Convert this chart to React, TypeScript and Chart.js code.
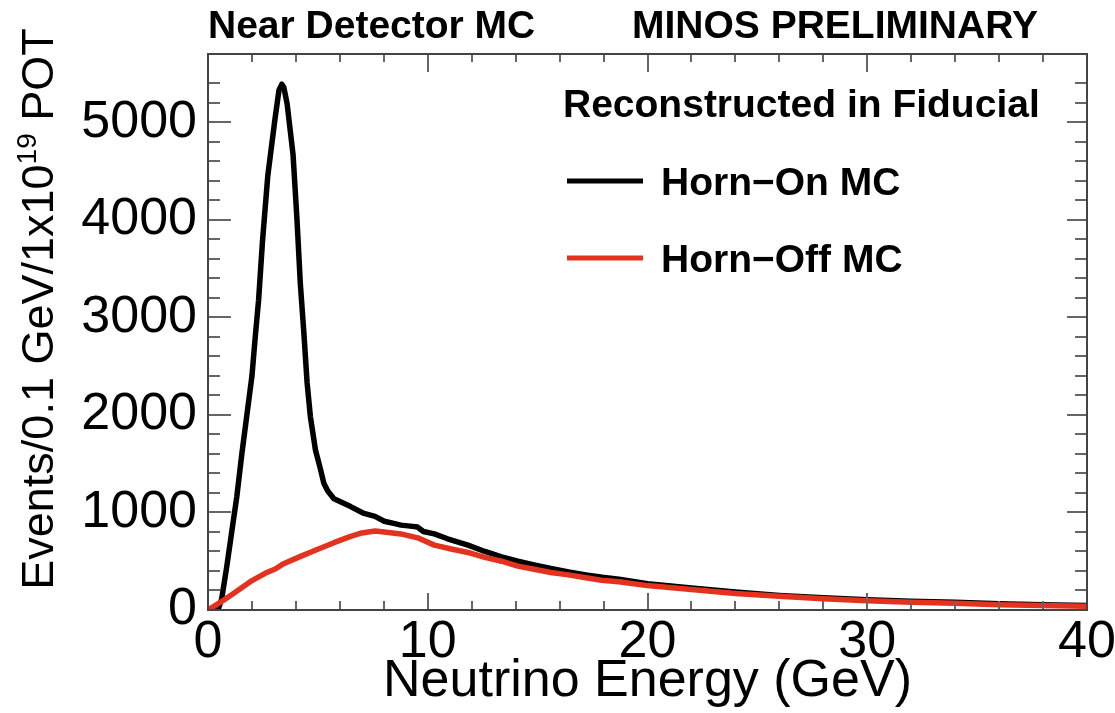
import React, { useEffect, useRef } from 'react';
import { Chart, registerables } from 'chart.js';

Chart.register(...registerables);

// Horn-On MC (black), energy in GeV and events per 0.1 GeV per 1e19 POT
const onEnergy = [0, 0.45, 0.62, 0.85, 1.08, 1.31, 1.54, 1.77, 2.0, 2.15, 2.3, 2.48, 2.72, 3.04, 3.23, 3.36, 3.45, 3.6, 3.87, 4.05, 4.2, 4.36, 4.51, 4.66, 4.89, 5.1, 5.27, 5.45, 5.73, 5.88, 6.49, 7.1, 7.6, 8.02, 8.5, 8.78, 9.2, 9.54, 9.8, 10.3, 10.9, 11.83, 12.6, 13.36, 14.1, 14.89, 15.6, 16.41, 17.2, 17.94, 18.7, 20, 22, 24, 26, 28, 30, 32, 34, 36, 38, 40];
const onEvents = [0, 0, 110, 440, 800, 1160, 1600, 2000, 2400, 2800, 3170, 3780, 4450, 5020, 5330, 5390, 5360, 5190, 4670, 4000, 3350, 2850, 2330, 1980, 1640, 1460, 1300, 1220, 1140, 1125, 1060, 990, 960, 910, 885, 870, 860, 850, 805, 780, 730, 665, 600, 545, 500, 460, 425, 390, 360, 335, 315, 270, 225, 185, 150, 125, 105, 90, 80, 65, 55, 45];

// Horn-Off MC (red)
const offEnergy = [0, 0.5, 1.16, 1.92, 2.68, 3.06, 3.44, 4.21, 4.97, 5.73, 6.49, 7.0, 7.6, 8.02, 8.78, 9.54, 10.3, 11.07, 11.83, 12.6, 13.36, 14.1, 14.9, 15.6, 16.4, 17.2, 17.9, 18.7, 20, 22, 24, 26, 28, 30, 32, 34, 36, 38, 40];
const offEvents = [0, 70, 170, 290, 385, 420, 475, 550, 620, 690, 755, 790, 810, 800, 780, 740, 665, 625, 590, 540, 500, 450, 415, 385, 360, 330, 305, 290, 250, 210, 170, 140, 115, 95, 80, 70, 55, 45, 38];

const xTickLabels = ['0', '10', '20', '30', '40'];
const yTickLabels = ['0', '1000', '2000', '3000', '4000', '5000'];
const seriesNames = ['Horn\u2212On MC', 'Horn\u2212Off MC'];
const seriesColors = ['#000000', '#e3321e'];
const headerLeft = 'Near Detector MC';
const headerRight = 'MINOS PRELIMINARY';
const legendHeader = 'Reconstructed in Fiducial';
const xTitle = 'Neutrino Energy (GeV)';
const yTitleMain = 'Events/0.1 GeV/1x10';
const yTitleSup = '19';
const yTitleEnd = ' POT';

const FONT = "'Liberation Sans', Arial, Helvetica, sans-serif";

const decorPlugin = {
  id: 'decor',
  afterDatasetsDraw(chart: any) {
    const { ctx, chartArea: a, scales } = chart;
    const x = scales.x;
    const y = scales.y;
    ctx.save();
    const line = (x1: number, y1: number, x2: number, y2: number) => {
      ctx.beginPath();
      ctx.moveTo(x1, y1);
      ctx.lineTo(x2, y2);
      ctx.stroke();
    };
    ctx.strokeStyle = '#666';
    ctx.lineWidth = 2;
    for (const t of x.ticks) {
      const v = t.value;
      if (v <= x.min || v >= x.max) continue;
      const px = Math.round(x.getPixelForValue(v));
      const major = v % 10 === 0;
      line(px, a.bottom, px, a.bottom - (major ? 17 : 9));
      line(px, a.top, px, a.top + (major ? 18 : 8));
    }
    for (const t of y.ticks) {
      const v = t.value;
      if (v <= y.min || v >= y.max || v % 200 !== 0) continue;
      const py = Math.round(y.getPixelForValue(v));
      const major = v % 1000 === 0;
      line(a.left, py, a.left + (major ? 23 : 12), py);
      line(a.right, py, a.right - (major ? 20 : 12), py);
    }
    ctx.strokeStyle = '#444';
    ctx.lineWidth = 2;
    ctx.strokeRect(a.left, a.top, a.right - a.left, a.bottom - a.top);
    ctx.restore();
  },
  afterDraw(chart: any) {
    const { ctx } = chart;
    ctx.save();
    ctx.fillStyle = '#000';
    ctx.textBaseline = 'alphabetic';
    ctx.textAlign = 'left';
    ctx.font = `bold 39px ${FONT}`;
    ctx.fillText(headerLeft, 208, 38);
    ctx.fillText(headerRight, 632, 38);

    ctx.font = `bold 39px ${FONT}`;
    ctx.fillText(legendHeader, 563, 117);
    const rows = [181, 258];
    seriesNames.forEach((name, i) => {
      ctx.strokeStyle = seriesColors[i];
      ctx.lineWidth = 5;
      ctx.beginPath();
      ctx.moveTo(567, rows[i]);
      ctx.lineTo(643, rows[i]);
      ctx.stroke();
      ctx.fillText(name, 661, rows[i] + 14);
    });

    // y axis title (rotated)
    const mainFont = `45px ${FONT}`;
    const supFont = `28px ${FONT}`;
    ctx.font = mainFont;
    const w1 = ctx.measureText(yTitleMain).width;
    const w3 = ctx.measureText(yTitleEnd).width;
    ctx.font = supFont;
    const w2 = ctx.measureText(yTitleSup).width;
    const total = w1 + w2 + w3;
    ctx.translate(53, 309);
    ctx.rotate(-Math.PI / 2);
    let cx = -total / 2;
    ctx.font = mainFont;
    ctx.fillText(yTitleMain, cx, 0);
    cx += w1;
    ctx.font = supFont;
    ctx.fillText(yTitleSup, cx, -17);
    cx += w2;
    ctx.font = mainFont;
    ctx.fillText(yTitleEnd, cx, 0);
    ctx.restore();
  },
};

export default function App() {
  const ref = useRef<HTMLCanvasElement | null>(null);
  useEffect(() => {
    if (!ref.current) return;
    const chart = new Chart(ref.current, {
      type: 'line',
      data: {
        datasets: [
          {
            label: seriesNames[1],
            data: offEnergy.map((e, i) => ({ x: e, y: offEvents[i] })),
            borderColor: seriesColors[1],
            borderWidth: 5.5,
            pointRadius: 0,
            tension: 0,
            borderJoinStyle: 'round',
            borderCapStyle: 'round',
            order: 0,
          },
          {
            label: seriesNames[0],
            data: onEnergy.map((e, i) => ({ x: e, y: onEvents[i] })),
            borderColor: seriesColors[0],
            borderWidth: 5.5,
            pointRadius: 0,
            tension: 0,
            borderJoinStyle: 'round',
            borderCapStyle: 'round',
            order: 1,
          },
        ],
      },
      options: {
        animation: false,
        responsive: false,
        devicePixelRatio: 1,
        layout: { padding: { left: 0, right: 28, top: 54, bottom: 0 } },
        plugins: { legend: { display: false }, tooltip: { enabled: false }, title: { display: false } },
        scales: {
          x: {
            type: 'linear',
            min: 0,
            max: 40,
            grid: { display: false, drawTicks: false },
            border: { display: false },
            ticks: {
              stepSize: 2,
              autoSkip: false,
              maxRotation: 0,
              minRotation: 0,
              padding: 1,
              color: '#000',
              font: { family: FONT, size: 52 },
              callback: (v: any) => (xTickLabels.includes(String(v)) ? String(v) : ''),
            },
            title: {
              display: true,
              text: xTitle,
              color: '#000',
              font: { family: FONT, size: 52 },
              padding: { top: 0, bottom: 0 },
            },
            afterFit: (s: any) => {
              s.height = 103;
              s.paddingLeft = 0;
              s.paddingRight = 0;
            },
          },
          y: {
            type: 'linear',
            min: 0,
            max: 5700,
            grid: { display: false, drawTicks: false },
            border: { display: false },
            ticks: {
              stepSize: 200,
              autoSkip: false,
              padding: 11,
              color: '#000',
              font: { family: FONT, size: 52 },
              callback: (v: any) => (yTickLabels.includes(String(v)) ? String(v) : ''),
            },
            afterFit: (s: any) => {
              s.width = 208;
              s.paddingTop = 0;
              s.paddingBottom = 0;
            },
          },
        },
      },
      plugins: [decorPlugin],
    });
    return () => chart.destroy();
  }, []);
  return (
    <div style={{ position: 'absolute', left: 0, top: 0, width: 1115, height: 713, background: '#fff' }}>
      <canvas ref={ref} width={1115} height={713} />
    </div>
  );
}
